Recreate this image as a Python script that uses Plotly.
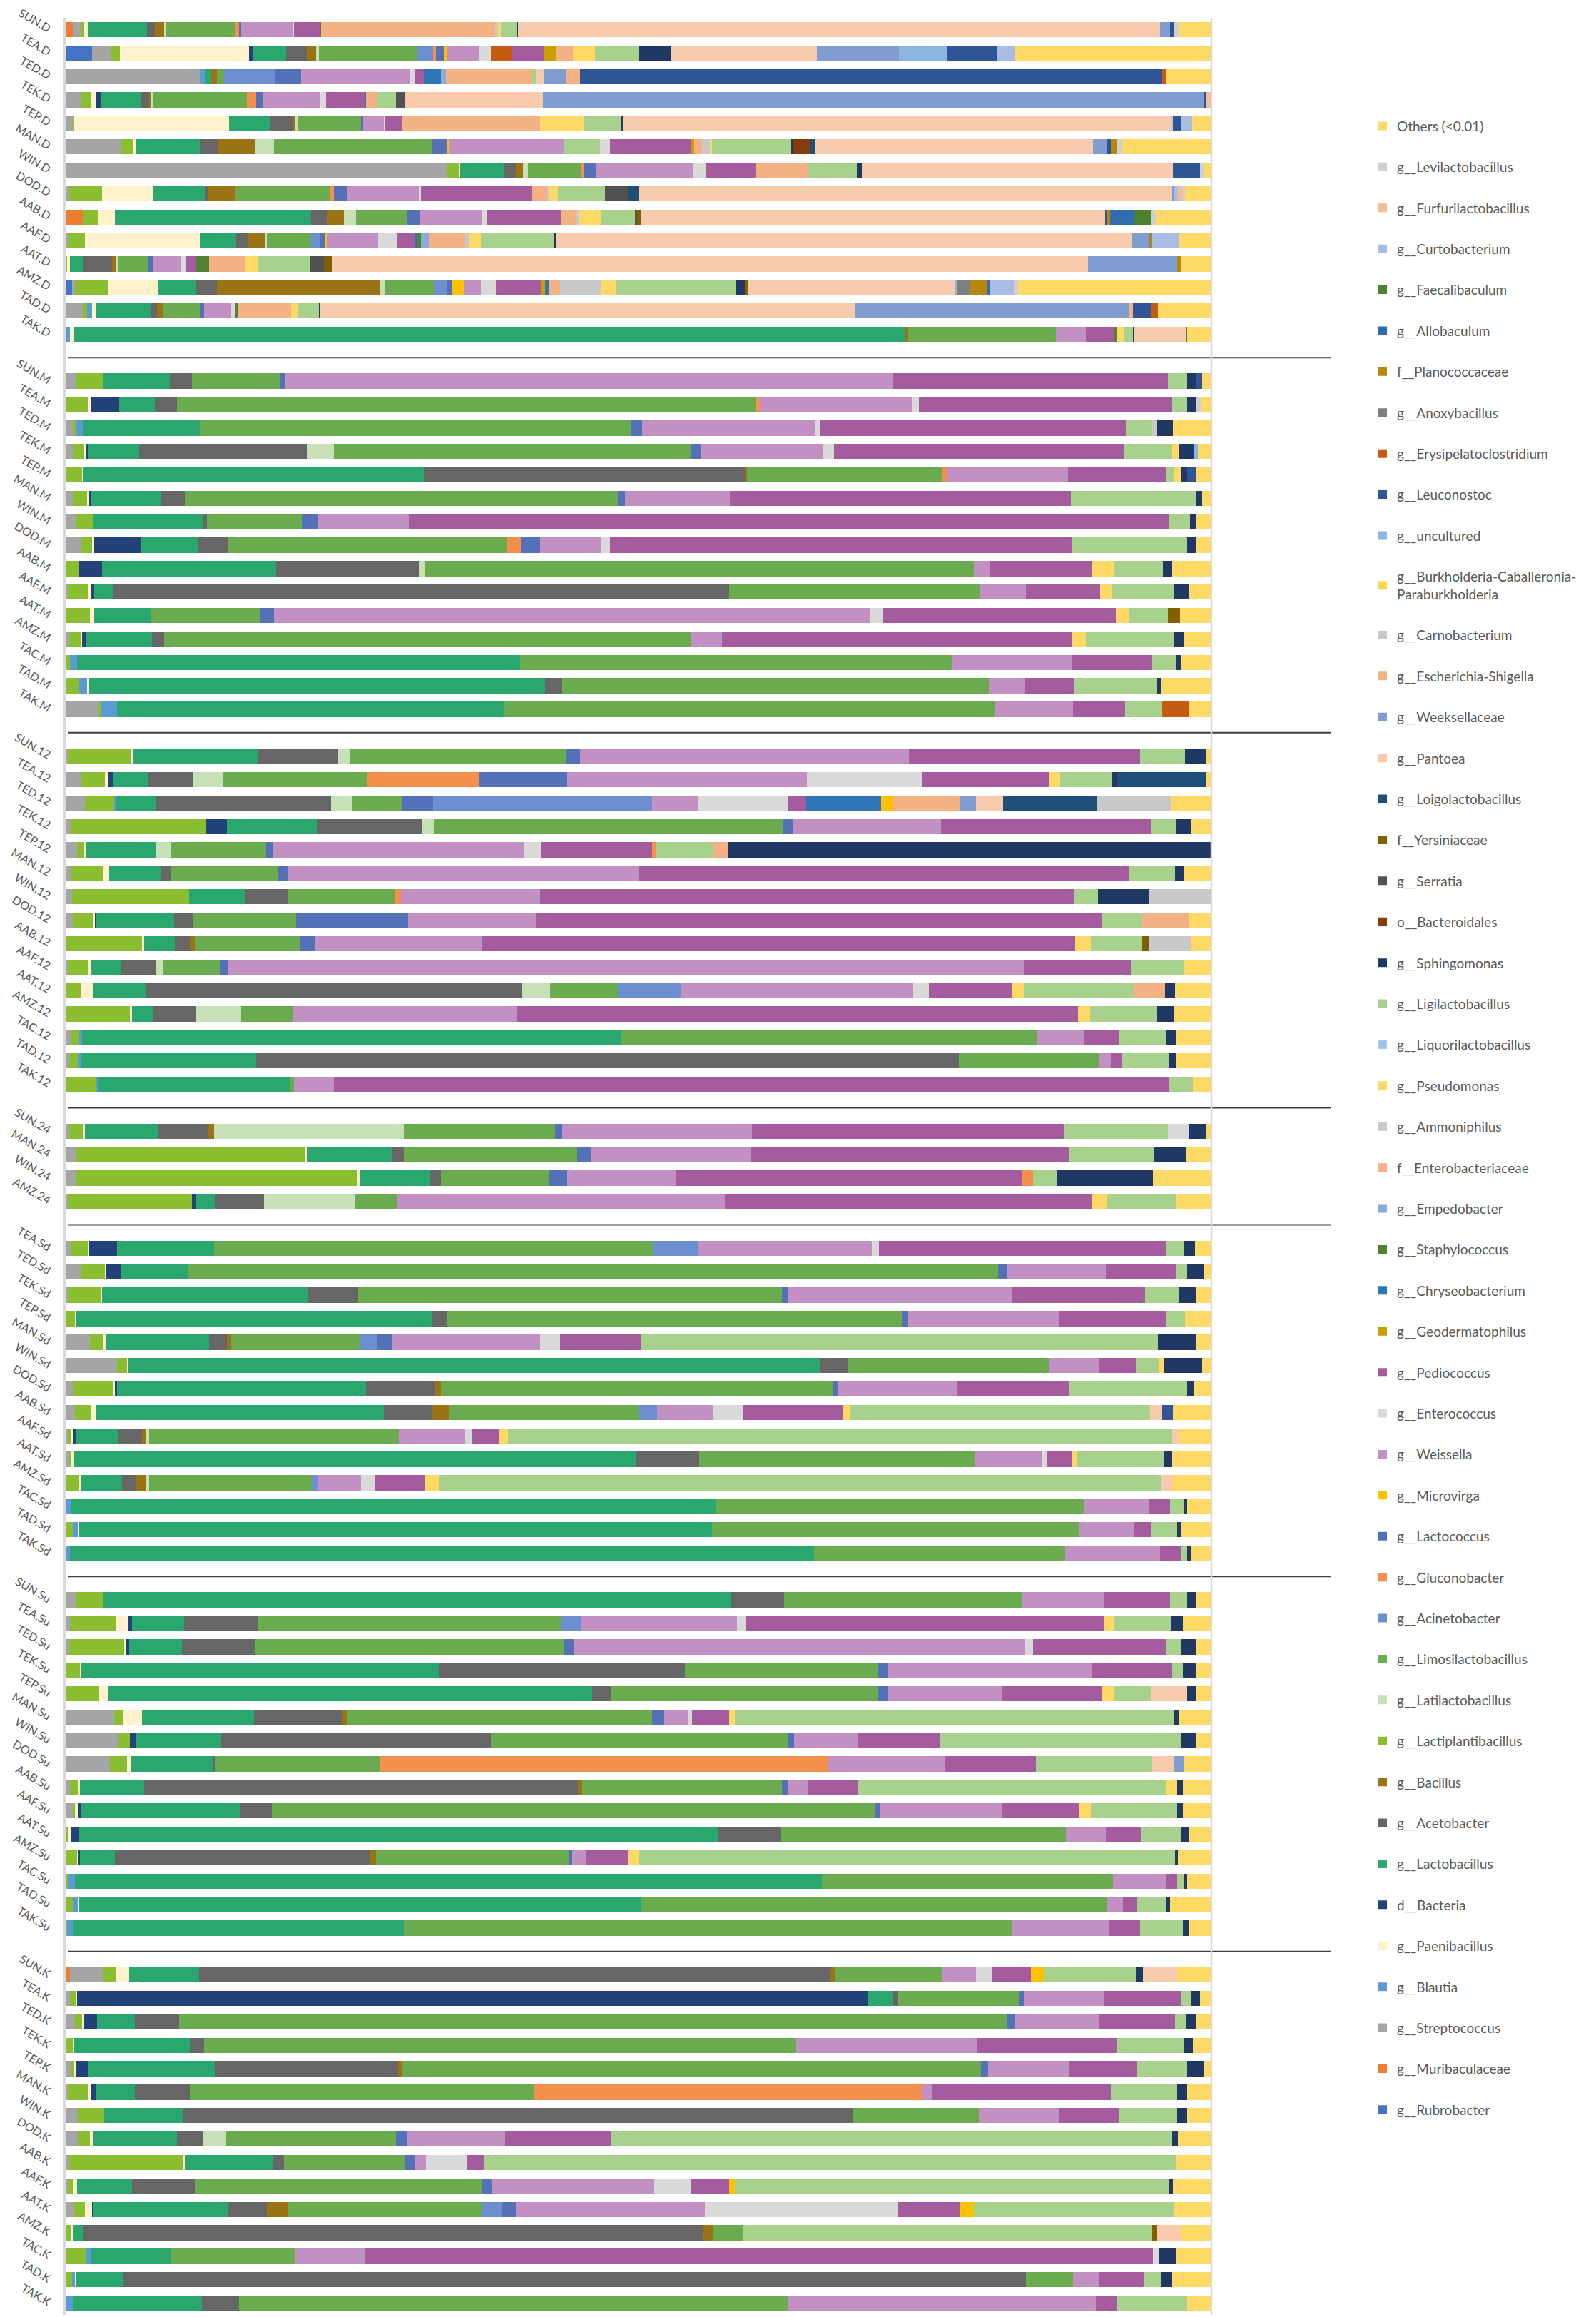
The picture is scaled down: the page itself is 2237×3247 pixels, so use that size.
import plotly.graph_objects as go

# ---------------- legend (top to bottom) ----------------
LEGEND_CODES = ["Oth", "Lev", "Fur", "Cur", "Fae", "All", "Pla", "Ano", "Ery", "Leu", "Unc", "Bur",
                "Car", "Esc", "Wee", "Pan", "Loi", "Yer", "Ser", "Bcd", "Sph", "Lig", "Liq", "Pse",
                "Amm", "Enb", "Emp", "Sta", "Chr", "Geo", "Ped", "Ent", "Wei", "Mic", "Lcc", "Glu",
                "Aci", "Lim", "Lat", "Lpl", "Bcl", "Ace", "Lbc", "Bac", "Pae", "Bla", "Str", "Mur", "Rub"]
LEGEND_NAMES = ["Others (<0.01)", "g__Levilactobacillus", "g__Furfurilactobacillus", "g__Curtobacterium",
                "g__Faecalibaculum", "g__Allobaculum", "f__Planococcaceae", "g__Anoxybacillus",
                "g__Erysipelatoclostridium", "g__Leuconostoc", "g__uncultured",
                "g__Burkholderia-Caballeronia-<br>Paraburkholderia", "g__Carnobacterium",
                "g__Escherichia-Shigella", "g__Weeksellaceae", "g__Pantoea", "g__Loigolactobacillus",
                "f__Yersiniaceae", "g__Serratia", "o__Bacteroidales", "g__Sphingomonas",
                "g__Ligilactobacillus", "g__Liquorilactobacillus", "g__Pseudomonas", "g__Ammoniphilus",
                "f__Enterobacteriaceae", "g__Empedobacter", "g__Staphylococcus", "g__Chryseobacterium",
                "g__Geodermatophilus", "g__Pediococcus", "g__Enterococcus", "g__Weissella",
                "g__Microvirga", "g__Lactococcus", "g__Gluconobacter", "g__Acinetobacter",
                "g__Limosilactobacillus", "g__Latilactobacillus", "g__Lactiplantibacillus",
                "g__Bacillus", "g__Acetobacter", "g__Lactobacillus", "d__Bacteria", "g__Paenibacillus",
                "g__Blautia", "g__Streptococcus", "g__Muribaculaceae", "g__Rubrobacter"]

COLORS = {
    "Oth": "#FFD966", "Lev": "#D0D0D0", "Fur": "#F5BC98", "Cur": "#A9BDE3", "Fae": "#4F7F30",
    "All": "#2E6DB0", "Pla": "#B8860B", "Ano": "#7F7F7F", "Ery": "#C55A11", "Leu": "#2F5597",
    "Unc": "#8DB5E2", "Bur": "#FFD54A", "Car": "#C8C8C8", "Esc": "#F4B183", "Wee": "#7F9DD1",
    "Pan": "#F8CBAD", "Loi": "#1F4E79", "Yer": "#806000", "Ser": "#525252", "Bcd": "#843C0C",
    "Sph": "#203864", "Lig": "#A9D18E", "Liq": "#9DC3E6", "Pse": "#FFD966", "Amm": "#C9C9C9",
    "Enb": "#F4B183", "Emp": "#8EA9DB", "Sta": "#548235", "Chr": "#2E75B6", "Geo": "#C9A000",
    "Ped": "#A55C9F", "Ent": "#D9D9D9", "Wei": "#C390C4", "Mic": "#FFC000", "Lcc": "#5470B6",
    "Glu": "#F4904C", "Aci": "#6C8FD1", "Lim": "#6AAB50", "Lat": "#C8E0B8", "Lpl": "#8ABE30",
    "Bcl": "#997314", "Ace": "#666666", "Lbc": "#29A76F", "Bac": "#24427A", "Pae": "#FFF2CC",
    "Bla": "#5B9BD5", "Str": "#A5A5A5", "Mur": "#ED7D31", "Rub": "#4472C4",
}

# base stacking order (left to right)
STACK_SEED = ["Rub", "Mur", "Str", "Lpl", "Bla", "Pae", "Bac", "Lbc", "Ace", "Bcl", "Lat", "Lim", "Aci",
              "Glu", "Lcc", "Mic", "Wei", "Ent", "Ped", "Geo", "Chr", "Sta", "Emp", "Enb", "Amm", "Pse",
              "Liq", "Lig", "Sph", "Bcd", "Ser", "Yer", "Loi", "Pan", "Wee", "Esc", "Car", "Bur", "Unc",
              "Leu", "Ery", "Ano", "Pla", "All", "Fae", "Cur", "Fur", "Lev", "Oth"]

SECTIONS = [
    ("D", ["SUN", "TEA", "TED", "TEK", "TEP", "MAN", "WIN", "DOD", "AAB", "AAF", "AAT", "AMZ", "TAD", "TAK"]),
    ("M", ["SUN", "TEA", "TED", "TEK", "TEP", "MAN", "WIN", "DOD", "AAB", "AAF", "AAT", "AMZ", "TAC", "TAD", "TAK"]),
    ("12", ["SUN", "TEA", "TED", "TEK", "TEP", "MAN", "WIN", "DOD", "AAB", "AAF", "AAT", "AMZ", "TAC", "TAD", "TAK"]),
    ("24", ["SUN", "MAN", "WIN", "AMZ"]),
    ("Sd", ["TEA", "TED", "TEK", "TEP", "MAN", "WIN", "DOD", "AAB", "AAF", "AAT", "AMZ", "TAC", "TAD", "TAK"]),
    ("Su", ["SUN", "TEA", "TED", "TEK", "TEP", "MAN", "WIN", "DOD", "AAB", "AAF", "AAT", "AMZ", "TAC", "TAD", "TAK"]),
    ("K", ["SUN", "TEA", "TED", "TEK", "TEP", "MAN", "WIN", "DOD", "AAB", "AAF", "AAT", "AMZ", "TAC", "TAD", "TAK"]),
]

# ---------------- relative abundances (%), left to right ----------------
SUN_D = [("Mur",0.65),("Str",0.65),("Lpl",0.3),("Pae",0.4),("Lbc",5.1),("Ace",0.72),("Bcl",0.78),("Lat",0.15),("Lim",6.0),("Glu",0.42),("Lcc",0.16),("Wei",4.5),("Ent",0.1),("Ped",2.3),("Sta",0.1),("Enb",15.2),("Amm",0.26),("Pse",0.23),("Lig",1.4),("Sph",0.1),("Pan",56.1),("Wee",0.92),("Leu",0.33),("Lev",0.46),("Oth",2.8)]
TEA_D = [("Rub",2.3),("Str",1.7),("Lpl",0.72),("Pae",11.3),("Bac",0.4),("Lbc",2.9),("Ace",1.77),("Bcl",0.85),("Lat",0.2),("Lim",8.6),("Aci",1.4),("Glu",0.26),("Lcc",0.78),("Mic",0.2),("Wei",2.8),("Ent",1.0),("Ery",1.93),("Ped",2.7),("Geo",1.1),("Enb",1.5),("Pse",1.9),("Lig",3.9),("Sph",2.8),("Pan",12.7),("Wee",7.2),("Unc",4.25),("Leu",4.4),("Cur",1.5),("Oth",17.2)]
TED_D = [("Str",11.8),("Bla",0.33),("Lbc",0.6),("Bcl",0.46),("Lim",0.65),("Aci",4.5),("Lcc",2.2),("Wei",9.5),("Ent",0.46),("Ped",0.8),("Chr",1.5),("Emp",0.4),("Enb",7.5),("Lig",0.33),("Pan",0.7),("Wee",2.0),("Esc",1.2),("Leu",50.8),("Ery",0.33),("Oth",4.0)]
TEK_D = [("Str",1.3),("Lpl",0.9),("Pae",0.4),("Bac",0.52),("Lbc",3.4),("Ace",0.75),("Bcl",0.23),("Lat",0.15),("Lim",8.2),("Glu",0.78),("Lcc",0.6),("Wei",5.0),("Ent",0.5),("Ped",3.4),("Chr",0.13),("Enb",0.9),("Lig",1.7),("Ser",0.75),("Pan",12.1),("Wee",57.7),("Leu",0.16),("Fur",0.5)]
TEP_D = [("Str",0.6),("Lpl",0.16),("Pae",13.5),("Lbc",3.6),("Ace",1.96),("Bcl",0.23),("Lat",0.2),("Lim",5.6),("Lcc",0.16),("Wei",1.8),("Ent",0.16),("Ped",1.44),("Enb",12.1),("Pse",3.8),("Lig",3.3),("Sph",0.13),("Pan",48.0),("Car",0.13),("Leu",0.7),("Cur",0.95),("Oth",1.7)]
MAN_D = [("Rub",0.07),("Str",4.7),("Lpl",1.08),("Pae",0.3),("Lbc",5.6),("Ace",1.54),("Bcl",3.3),("Lat",1.6),("Lim",13.8),("Lcc",1.3),("Mic",0.2),("Wei",10.1),("Lig",3.1),("Ent",0.9),("Ped",7.1),("Geo",0.2),("Enb",0.7),("Amm",0.7),("Pse",0.16),("Lig",6.9),("Sph",0.23),("Bcd",1.5),("Loi",0.46),("Pan",24.2),("Wee",1.24),("Leu",0.33),("Pla",0.5),("Lev",0.5),("Oth",7.8)]
WIN_D = [("Str",33.35),("Lpl",1.05),("Pae",0.07),("Lbc",3.86),("Ace",0.98),("Bcl",0.65),("Lat",0.43),("Lim",4.7),("Glu",0.26),("Lcc",1.05),("Wei",8.45),("Ent",1.14),("Ped",4.35),("Enb",4.58),("Lig",4.25),("Sph",0.4),("Pan",27.2),("Leu",2.35),("Lev",0.36),("Oth",0.65)]
DOD_D = [("Str",0.3),("Lpl",2.9),("Pae",4.5),("Lbc",4.5),("Ace",0.26),("Bcl",2.4),("Lim",8.3),("Glu",0.33),("Lcc",1.2),("Wei",6.3),("Ent",0.1),("Ped",9.7),("Enb",1.3),("Amm",0.26),("Pse",0.78),("Lig",4.1),("Ser",2.0),("Loi",1.0),("Pan",46.7),("Wee",0.2),("Cur",0.26),("Fur",0.4),("Lev",0.26),("Oth",2.3)]
AAB_D = [("Mur",1.57),("Lpl",1.24),("Pae",1.5),("Lbc",17.2),("Ace",1.4),("Bcl",1.44),("Lat",1.1),("Lim",4.5),("Lcc",1.08),("Wei",5.4),("Ent",0.4),("Ped",6.6),("Enb",1.24),("Amm",0.26),("Pse",2.0),("Lig",2.9),("Ser",0.2),("Yer",0.4),("Pan",40.6),("Leu",0.2),("Pla",0.2),("All",2.1),("Fae",1.5),("Lev",0.4),("Oth",4.9)]
AAF_D = [("Str",0.16),("Lpl",1.54),("Pae",10.1),("Lbc",3.1),("Ace",1.05),("Bcl",1.47),("Lat",0.13),("Lim",3.9),("Aci",0.7),("Lcc",0.52),("Mic",0.13),("Wei",4.5),("Ent",1.6),("Ped",1.6),("Chr",0.23),("Sta",0.26),("Emp",0.7),("Enb",3.2),("Amm",0.33),("Pse",1.05),("Lig",6.4),("Sph",0.1),("Pan",50.3),("Wee",1.57),("Ano",0.1),("Pla",0.1),("Cur",2.4),("Oth",2.8)]
AAT_D = [("Lpl",0.13),("Pae",0.26),("Lbc",1.14),("Ace",2.55),("Bcl",0.4),("Lat",0.07),("Lim",2.65),("Lcc",0.46),("Wei",2.45),("Ent",0.43),("Ped",0.9),("Sta",1.1),("Enb",3.1),("Pse",1.14),("Lig",4.6),("Ser",1.2),("Yer",0.65),("Pan",66.1),("Wee",7.8),("Pla",0.3),("Oth",2.7)]
AMZ_D = [("Rub",0.56),("Str",0.26),("Lpl",2.85),("Pae",4.35),("Lbc",3.4),("Ace",1.83),("Bcl",14.3),("Lat",0.4),("Lim",4.3),("Aci",1.14),("Lcc",0.43),("Mic",1.05),("Wei",1.47),("Ent",1.3),("Ped",3.9),("Geo",0.43),("Chr",0.26),("Enb",1.0),("Amm",3.66),("Pse",1.24),("Lig",10.5),("Sph",0.8),("Yer",0.23),("Pan",18.1),("Unc",0.2),("Ano",1.14),("Pla",1.54),("All",0.23),("Cur",2.06),("Lev",0.4),("Oth",16.9)]
TAD_D = [("Str",1.54),("Lpl",0.36),("Bla",0.4),("Pae",0.36),("Lbc",4.84),("Ace",0.5),("Bcl",0.46),("Lim",3.34),("Lcc",0.33),("Wei",2.35),("Ent",0.3),("Sta",0.3),("Enb",4.64),("Pse",0.56),("Lig",1.93),("Sph",0.1),("Pan",46.8),("Wee",24.0),("Esc",0.26),("Leu",1.57),("Ery",0.62),("Oth",4.7)]
TAK_D = [("Lpl",0.07),("Bla",0.33),("Pae",0.33),("Lbc",72.6),("Bcl",0.33),("Lim",12.9),("Wei",2.6),("Ped",2.5),("Sta",0.26),("Pse",0.6),("Lig",0.8),("Sph",0.13),("Pan",4.45),("Fae",0.16),("Oth",2.1)]

SUN_M = [("Str",0.85),("Lpl",2.45),("Lbc",5.8),("Ace",1.9),("Lim",7.7),("Lcc",0.4),("Wei",53.1),("Ped",24.0),("Lig",1.7),("Sph",0.8),("Leu",0.5),("Oth",0.8)]
TEA_M = [("Lpl",1.9),("Pae",0.3),("Bac",2.45),("Lbc",3.1),("Ace",1.9),("Lim",50.2),("Glu",0.4),("Wei",13.2),("Ent",0.6),("Ped",22.0),("Lig",1.3),("Sph",0.8),("Lev",0.4),("Oth",0.9)]
TED_M = [("Str",0.6),("Lpl",0.3),("Bla",0.6),("Lbc",10.3),("Lim",37.7),("Lcc",0.9),("Wei",15.1),("Ent",0.5),("Ped",26.7),("Lig",2.3),("Amm",0.4),("Sph",1.4),("Oth",3.4)]
TEK_M = [("Str",0.6),("Lpl",1.0),("Pae",0.15),("Bac",0.2),("Lbc",4.5),("Ace",14.6),("Lat",2.4),("Lim",31.2),("Lcc",0.9),("Wei",10.6),("Ent",1.0),("Ped",25.3),("Lig",4.3),("Pse",0.6),("Sph",1.3),("Unc",0.3),("Oth",1.2)]
TEP_M = [("Lpl",1.4),("Pae",0.15),("Lbc",29.7),("Ace",28.0),("Bcl",0.2),("Lim",17.0),("Glu",0.4),("Wei",10.6),("Ped",8.6),("Lig",0.6),("Pse",0.6),("Sph",0.6),("Leu",0.8),("Oth",1.3)]
MAN_M = [("Str",0.6),("Lpl",1.3),("Pae",0.15),("Bac",0.15),("Lbc",6.1),("Ace",2.2),("Lim",37.8),("Lcc",0.6),("Wei",9.2),("Ped",29.8),("Lig",11.0),("Sph",0.5),("Oth",0.8)]
WIN_M = [("Str",0.85),("Lpl",1.5),("Lbc",9.7),("Ace",0.3),("Lim",8.3),("Lcc",1.4),("Wei",7.9),("Ped",66.4),("Lig",1.8),("Sph",0.6),("Oth",1.3)]
DOD_M = [("Str",1.3),("Lpl",1.0),("Pae",0.2),("Bac",4.1),("Lbc",5.0),("Ace",2.6),("Lim",24.4),("Glu",1.2),("Lcc",1.7),("Wei",5.3),("Ent",0.8),("Ped",40.4),("Lig",10.1),("Sph",0.8),("Oth",1.3)]
AAB_M = [("Lpl",1.15),("Bac",2.0),("Lbc",15.1),("Ace",12.4),("Lat",0.5),("Lim",47.7),("Wei",1.4),("Ped",8.8),("Pse",1.9),("Lig",4.3),("Sph",0.8),("Oth",3.4)]
AAF_M = [("Str",0.25),("Lpl",1.75),("Pae",0.2),("Bac",0.3),("Lbc",1.6),("Ace",53.8),("Lim",21.9),("Wei",4.0),("Ped",6.5),("Pse",1.0),("Lig",5.4),("Sph",1.3),("Oth",2.0)]
AAT_M = [("Lpl",2.1),("Pae",0.37),("Lbc",4.8),("Lim",9.4),("Lcc",1.2),("Wei",51.1),("Ent",1.0),("Ped",20.0),("Pse",1.2),("Lig",3.3),("Yer",1.0),("Oth",2.7)]
AMZ_M = [("Str",0.3),("Lpl",1.0),("Pae",0.1),("Bac",0.3),("Lbc",5.8),("Ace",1.0),("Lim",45.6),("Wei",2.7),("Ped",30.3),("Pse",1.2),("Lig",7.7),("Sph",0.8),("Oth",2.4)]
TAC_M = [("Lpl",0.37),("Bla",0.6),("Lbc",38.7),("Lim",37.8),("Wei",10.4),("Ped",7.0),("Lig",2.1),("Sph",0.4),("Oth",2.7)]
TAD_M = [("Lpl",1.15),("Bla",0.7),("Pae",0.2),("Lbc",39.7),("Ace",1.5),("Lim",37.1),("Wei",3.2),("Ped",4.3),("Lig",7.1),("Sph",0.4),("Oth",4.4)]
TAK_M = [("Str",2.8),("Lpl",0.25),("Bla",1.4),("Lbc",33.5),("Lim",42.6),("Wei",6.7),("Ped",4.5),("Lig",3.2),("Ery",2.3),("Oth",2.0)]

SUN_12 = [("Str",0.2),("Lpl",5.5),("Pae",0.2),("Lbc",10.8),("Ace",7.0),("Lat",1.0),("Lim",18.8),("Lcc",1.2),("Wei",28.6),("Ped",20.1),("Lig",3.9),("Sph",1.8),("Oth",0.5)]
TEA_12 = [("Str",1.4),("Lpl",2.0),("Pae",0.27),("Bac",0.5),("Lbc",3.0),("Ace",3.9),("Lat",2.6),("Lim",12.6),("Glu",9.8),("Lcc",7.7),("Wei",20.9),("Ent",10.1),("Ped",11.0),("Pse",1.0),("Lig",4.5),("Sph",0.5),("Loi",7.7),("Oth",0.5)]
TED_12 = [("Str",1.65),("Lpl",2.5),("Bla",0.2),("Lbc",3.3),("Ace",15.0),("Lat",1.8),("Lim",4.3),("Lcc",2.6),("Aci",18.7),("Wei",3.9),("Ent",7.7),("Ped",1.5),("Chr",6.4),("Mic",1.0),("Enb",5.8),("Wee",1.3),("Pan",2.3),("Loi",8.0),("Amm",6.4),("Oth",3.4)]
TEK_12 = [("Str",0.45),("Lpl",12.1),("Bac",1.9),("Lbc",8.0),("Ace",9.5),("Lat",1.0),("Lim",31.2),("Lcc",1.0),("Wei",13.2),("Ped",18.8),("Lig",2.3),("Sph",1.3),("Oth",1.8)]
TEP_12 = [("Str",1.0),("Lpl",0.6),("Pae",0.15),("Lbc",6.1),("Lat",1.3),("Lim",8.4),("Lcc",0.6),("Wei",21.9),("Ent",1.5),("Ped",9.7),("Glu",0.4),("Lig",4.9),("Enb",1.4),("Sph",42.2)]
MAN_12 = [("Str",0.45),("Lpl",2.9),("Pae",0.5),("Lbc",4.5),("Ace",0.9),("Lim",9.4),("Lcc",0.9),("Wei",30.9),("Ped",43.2),("Lig",4.1),("Sph",0.8),("Oth",2.4)]
WIN_12 = [("Str",0.55),("Lpl",10.2),("Lbc",4.9),("Ace",3.7),("Lim",9.3),("Glu",0.6),("Wei",12.1),("Ped",46.5),("Lig",2.1),("Sph",4.5),("Amm",5.4)]
DOD_12 = [("Str",0.65),("Lpl",1.8),("Pae",0.12),("Bac",0.1),("Lbc",6.7),("Ace",1.6),("Lim",9.0),("Lcc",9.7),("Wei",11.0),("Ped",49.0),("Lig",3.5),("Enb",4.0),("Oth",2.0)]
AAB_12 = [("Lpl",6.5),("Pae",0.2),("Lbc",2.6),("Ace",1.3),("Bcl",0.4),("Lim",9.0),("Lcc",1.2),("Wei",14.3),("Ped",50.5),("Pse",1.3),("Lig",4.4),("Yer",0.6),("Amm",3.6),("Oth",1.7)]
AAF_12 = [("Str",0.2),("Lpl",1.65),("Pae",0.3),("Lbc",2.5),("Ace",2.9),("Lat",0.6),("Lim",4.9),("Lcc",0.6),("Wei",67.0),("Ped",9.0),("Lig",4.5),("Oth",2.3)]
AAT_12 = [("Lpl",1.35),("Pae",1.0),("Lbc",4.6),("Ace",32.2),("Lat",2.5),("Lim",5.8),("Aci",5.4),("Wei",20.0),("Ent",1.3),("Ped",7.2),("Pse",1.0),("Lig",9.5),("Enb",2.6),("Sph",0.9),("Oth",3.1)]
AMZ_12 = [("Lpl",5.6),("Pae",0.17),("Lbc",1.9),("Ace",3.7),("Lat",3.9),("Lim",4.5),("Wei",19.5),("Ped",49.0),("Pse",1.0),("Lig",5.8),("Sph",1.5),("Oth",3.3)]
TAC_12 = [("Str",0.45),("Lpl",0.7),("Bla",0.27),("Lbc",46.0),("Lim",35.5),("Wei",4.0),("Ped",3.0),("Lig",4.0),("Sph",0.9),("Oth",3.0)]
TAD_12 = [("Str",0.3),("Lpl",0.77),("Bla",0.2),("Lbc",15.0),("Ace",60.0),("Lim",12.0),("Wei",1.0),("Ped",1.0),("Lig",4.0),("Sph",0.6),("Oth",3.0)]
TAK_12 = [("Lpl",2.65),("Bla",0.2),("Lbc",16.8),("Lim",0.3),("Wei",3.5),("Ped",73.1),("Lig",2.1),("Oth",1.6)]

SUN_24 = [("Str",0.3),("Lpl",1.2),("Pae",0.2),("Lbc",6.4),("Ace",4.3),("Bcl",0.5),("Lat",16.5),("Lim",13.2),("Lcc",0.6),("Wei",16.5),("Ped",27.2),("Lig",9.0),("Ent",1.8),("Sph",1.5),("Oth",0.5)]
MAN_24 = [("Str",0.93),("Lpl",19.8),("Pae",0.2),("Lbc",7.3),("Ace",1.0),("Lim",15.0),("Lcc",1.2),("Wei",13.8),("Ped",27.5),("Lig",7.3),("Sph",2.8),("Oth",2.2)]
WIN_24 = [("Str",0.93),("Lpl",24.1),("Pae",0.2),("Lbc",6.0),("Ace",1.0),("Lim",9.3),("Lcc",1.5),("Wei",9.4),("Ped",29.7),("Glu",0.9),("Lig",2.0),("Sph",8.3),("Oth",5.0)]
AMZ_24 = [("Str",0.25),("Lpl",10.8),("Bac",0.4),("Lbc",1.6),("Ace",4.3),("Lat",8.0),("Lim",3.6),("Wei",28.7),("Ped",32.2),("Pse",1.3),("Lig",6.0),("Oth",3.1)]

TEA_Sd = [("Str",0.5),("Lpl",1.4),("Pae",0.15),("Bac",2.4),("Lbc",8.5),("Lim",38.2),("Aci",4.0),("Wei",15.1),("Ent",0.6),("Ped",25.1),("Lig",1.5),("Sph",1.0),("Oth",1.4)]
TED_Sd = [("Str",1.3),("Lpl",2.1),("Pae",0.15),("Bac",1.3),("Lbc",5.8),("Lim",70.7),("Lcc",0.8),("Wei",8.6),("Ped",6.1),("Lig",1.0),("Sph",1.5),("Oth",0.6)]
TEK_Sd = [("Str",0.25),("Lpl",2.8),("Pae",0.15),("Lbc",18.0),("Ace",4.3),("Lim",37.0),("Lcc",0.6),("Wei",19.5),("Ped",11.6),("Lig",3.0),("Sph",1.5),("Oth",1.3)]
TEP_Sd = [("Lpl",0.8),("Pae",0.15),("Lbc",31.0),("Ace",1.3),("Lim",39.7),("Lcc",0.5),("Wei",13.2),("Ped",9.3),("Lig",1.7),("Oth",2.3)]
MAN_Sd = [("Str",2.1),("Lpl",1.2),("Pae",0.25),("Lbc",9.0),("Ace",1.5),("Bcl",0.4),("Lim",11.3),("Aci",1.5),("Lcc",1.3),("Wei",12.9),("Ent",1.7),("Ped",7.1),("Lig",45.1),("Sph",3.4),("Oth",1.3)]
WIN_Sd = [("Str",4.5),("Lpl",0.9),("Pae",0.1),("Lbc",60.3),("Ace",2.5),("Lim",17.5),("Wei",4.4),("Ped",3.2),("Lig",2.0),("Pse",0.5),("Sph",3.3),("Oth",0.8)]
DOD_Sd = [("Str",0.6),("Lpl",3.5),("Pae",0.15),("Bac",0.2),("Lbc",21.6),("Ace",6.0),("Bcl",0.5),("Lim",34.0),("Lcc",0.5),("Wei",10.3),("Ped",9.7),("Lig",10.3),("Sph",0.6),("Oth",1.5)]
AAB_Sd = [("Str",0.8),("Lpl",1.4),("Pae",0.35),("Lbc",24.8),("Ace",4.1),("Bcl",1.5),("Lim",16.4),("Aci",1.5),("Wei",4.8),("Ent",2.6),("Ped",8.6),("Pse",0.6),("Lig",25.8),("Pan",1.0),("Leu",1.0),("Oth",3.3)]
AAF_Sd = [("Str",0.25),("Lpl",0.15),("Pae",0.3),("Bac",0.15),("Lbc",3.7),("Ace",2.05),("Bcl",0.3),("Lat",0.3),("Lim",21.5),("Wei",5.7),("Ent",0.6),("Ped",2.3),("Pse",0.8),("Lig",57.2),("Pan",0.6),("Oth",2.8)]
AAT_Sd = [("Str",0.3),("Lpl",0.15),("Pae",0.3),("Lbc",49.0),("Ace",5.5),("Lim",24.1),("Wei",5.8),("Ent",0.5),("Ped",2.1),("Pse",0.5),("Lig",7.5),("Sph",0.8),("Oth",3.4)]
AMZ_Sd = [("Lpl",1.2),("Pae",0.2),("Lbc",3.5),("Ace",1.3),("Bcl",0.8),("Lat",0.3),("Lim",14.3),("Aci",0.5),("Wei",3.7),("Ent",1.2),("Ped",4.4),("Pse",1.2),("Lig",63.2),("Pan",1.0),("Oth",3.4)]
TAC_Sd = [("Bla",0.5),("Lbc",56.3),("Lim",32.1),("Wei",5.7),("Ped",1.8),("Lig",1.2),("Sph",0.3),("Oth",2.1)]
TAD_Sd = [("Lpl",0.6),("Bla",0.45),("Pae",0.15),("Lbc",55.2),("Lim",32.1),("Wei",4.8),("Ped",1.4),("Lig",2.3),("Sph",0.3),("Oth",2.7)]
TAK_Sd = [("Bla",0.35),("Lbc",65.0),("Lim",21.9),("Wei",8.3),("Ped",1.8),("Lig",0.6),("Sph",0.3),("Oth",1.8)]

SUN_Su = [("Str",0.85),("Lpl",2.4),("Lbc",54.8),("Ace",4.6),("Lim",20.8),("Wei",7.1),("Ped",5.8),("Lig",1.5),("Sph",0.8),("Oth",1.3)]
TEA_Su = [("Str",0.37),("Lpl",4.0),("Pae",1.1),("Bac",0.3),("Lbc",4.5),("Ace",6.4),("Lim",26.4),("Aci",1.7),("Wei",13.5),("Ent",0.8),("Ped",31.1),("Pse",0.8),("Lig",5.0),("Sph",1.0),("Oth",2.5)]
TED_Su = [("Str",0.3),("Lpl",4.8),("Pae",0.15),("Bac",0.3),("Lbc",4.6),("Ace",6.4),("Lim",26.8),("Lcc",0.9),("Wei",39.3),("Ent",0.7),("Ped",11.6),("Lig",1.2),("Sph",1.4),("Oth",1.3)]
TEK_Su = [("Lpl",1.3),("Pae",0.1),("Lbc",31.2),("Ace",21.5),("Lim",16.8),("Lcc",0.9),("Wei",17.8),("Ped",7.1),("Lig",0.9),("Sph",1.2),("Oth",1.3)]
TEP_Su = [("Lpl",2.9),("Pae",0.8),("Lbc",42.2),("Ace",1.7),("Lim",23.2),("Lcc",0.9),("Wei",9.9),("Ped",8.8),("Pse",1.0),("Lig",3.2),("Pan",3.2),("Sph",0.8),("Oth",1.3)]
MAN_Su = [("Str",4.25),("Lpl",0.8),("Pae",1.6),("Lbc",9.8),("Ace",7.7),("Bcl",0.4),("Lim",26.6),("Lcc",1.0),("Wei",2.2),("Ent",0.3),("Ped",3.2),("Pse",0.5),("Lig",38.3),("Sph",0.5),("Oth",2.8)]
WIN_Su = [("Str",4.6),("Lpl",1.0),("Bac",0.5),("Lbc",7.5),("Ace",23.5),("Lim",26.0),("Lcc",0.5),("Wei",5.5),("Ped",7.2),("Lig",21.0),("Sph",1.4),("Oth",1.3)]
DOD_Su = [("Str",3.85),("Lpl",1.5),("Pae",0.35),("Lbc",7.1),("Ace",0.3),("Lim",14.3),("Glu",39.1),("Wei",10.2),("Ped",8.0),("Lig",10.1),("Pan",1.9),("Wee",0.9),("Oth",2.4)]
AAB_Su = [("Str",0.37),("Lpl",0.8),("Pae",0.1),("Lbc",5.6),("Ace",37.8),("Bcl",0.4),("Lim",17.4),("Lcc",0.6),("Wei",1.7),("Ped",4.4),("Lig",26.8),("Pse",1.0),("Sph",0.5),("Oth",2.5)]
AAF_Su = [("Str",0.7),("Lpl",0.1),("Pae",0.27),("Bac",0.25),("Lbc",13.9),("Ace",2.7),("Lim",52.5),("Lcc",0.4),("Wei",10.6),("Ped",6.7),("Pse",1.0),("Lig",7.5),("Sph",0.5),("Oth",2.5)]
AAT_Su = [("Lpl",0.2),("Pae",0.25),("Bac",0.75),("Lbc",55.8),("Ace",5.5),("Lim",24.9),("Wei",3.5),("Ped",3.0),("Lig",3.5),("Sph",0.7),("Oth",2.0)]
AMZ_Su = [("Lpl",1.0),("Pae",0.12),("Bac",0.15),("Lbc",3.0),("Ace",22.3),("Bcl",0.5),("Lim",16.8),("Lcc",0.3),("Wei",1.3),("Ped",3.6),("Pse",1.0),("Lig",46.7),("Sph",0.3),("Oth",2.9)]
TAC_Su = [("Lpl",0.25),("Bla",0.55),("Lbc",65.2),("Lim",25.4),("Wei",4.6),("Ped",1.0),("Lig",0.6),("Sph",0.3),("Oth",2.1)]
TAD_Su = [("Lpl",0.65),("Bla",0.4),("Pae",0.15),("Lbc",49.0),("Lim",40.7),("Wei",1.4),("Ped",1.2),("Lig",2.5),("Sph",0.4),("Oth",3.6)]
TAK_Su = [("Lpl",0.15),("Bla",0.55),("Lbc",28.8),("Lim",53.1),("Wei",8.5),("Ped",2.7),("Lig",3.7),("Sph",0.5),("Oth",2.0)]

SUN_K = [("Mur",0.4),("Str",2.9),("Lpl",1.15),("Pae",1.1),("Lbc",6.1),("Ace",55.2),("Bcl",0.5),("Lim",9.3),("Wei",3.0),("Ent",1.4),("Ped",3.4),("Mic",1.2),("Lig",8.0),("Sph",0.6),("Pan",3.0),("Oth",3.0)]
TEA_K = [("Str",0.4),("Lpl",0.5),("Pae",0.1),("Bac",69.1),("Lbc",2.2),("Ace",0.4),("Lim",10.6),("Lcc",0.4),("Wei",7.0),("Ped",6.8),("Lig",0.8),("Sph",0.8),("Oth",1.0)]
TED_K = [("Str",0.8),("Lpl",0.66),("Pae",0.15),("Bac",1.1),("Lbc",3.3),("Ace",3.9),("Lim",72.3),("Lcc",0.6),("Wei",7.4),("Ped",6.6),("Lig",1.0),("Sph",0.9),("Oth",1.3)]
TEK_K = [("Lpl",0.6),("Pae",0.15),("Lbc",10.1),("Ace",1.2),("Lim",51.7),("Wei",15.7),("Ped",12.3),("Lig",5.8),("Sph",0.8),("Oth",1.6)]
TEP_K = [("Str",0.45),("Lpl",0.35),("Pae",0.1),("Bac",1.1),("Lbc",11.0),("Ace",16.0),("Bcl",0.4),("Lim",50.5),("Lcc",0.6),("Wei",7.1),("Ped",5.9),("Lig",4.4),("Sph",1.5),("Oth",0.6)]
MAN_K = [("Str",0.25),("Lpl",1.7),("Pae",0.2),("Bac",0.5),("Lbc",3.4),("Ace",4.8),("Lim",30.0),("Glu",33.9),("Wei",0.9),("Ped",15.6),("Lig",5.8),("Sph",0.9),("Oth",2.1)]
WIN_K = [("Str",1.1),("Lpl",2.25),("Lbc",6.9),("Ace",58.4),("Lim",11.0),("Wei",7.0),("Ped",5.2),("Lig",5.1),("Sph",0.9),("Oth",2.1)]
DOD_K = [("Str",1.1),("Lpl",1.0),("Pae",0.3),("Lbc",7.2),("Ace",2.3),("Lat",2.0),("Lim",14.7),("Lcc",0.9),("Wei",8.5),("Ped",9.2),("Lig",48.5),("Sph",0.5),("Oth",2.9)]
AAB_K = [("Str",0.3),("Lpl",9.8),("Pae",0.2),("Lbc",7.6),("Ace",1.0),("Lim",10.5),("Lcc",0.8),("Wei",1.0),("Ent",3.5),("Ped",1.5),("Lig",60.0),("Oth",3.0)]
AAF_K = [("Str",0.2),("Lpl",0.4),("Pae",0.4),("Lbc",4.7),("Ace",5.4),("Lim",24.6),("Lcc",0.8),("Wei",13.9),("Ent",3.2),("Ped",3.2),("Mic",0.5),("Lig",37.2),("Sph",0.3),("Oth",3.3)]
AAT_K = [("Str",0.75),("Lpl",0.95),("Pae",0.65),("Bac",0.1),("Lbc",11.7),("Ace",3.4),("Bcl",1.8),("Lim",17.0),("Aci",1.7),("Lcc",1.2),("Wei",16.5),("Ent",16.8),("Ped",5.4),("Mic",1.3),("Lig",17.4),("Oth",3.3)]
AMZ_K = [("Lpl",0.45),("Pae",0.2),("Lbc",0.85),("Ace",53.9),("Bcl",0.8),("Lim",2.6),("Lig",35.5),("Yer",0.5),("Pan",2.1),("Oth",2.6)]
TAC_K = [("Lpl",1.75),("Bla",0.4),("Lbc",7.0),("Lim",10.8),("Wei",6.2),("Ped",68.7),("Ent",0.5),("Sph",1.5),("Oth",3.1)]
TAD_K = [("Lpl",0.55),("Bla",0.3),("Pae",0.1),("Lbc",4.1),("Ace",78.7),("Lim",4.1),("Wei",2.3),("Ped",3.9),("Lig",1.5),("Sph",1.0),("Oth",3.4)]
TAK_K = [("Bla",0.7),("Lbc",11.2),("Ace",3.2),("Lim",48.0),("Wei",26.8),("Ped",1.8),("Lig",6.2),("Oth",2.1)]

ROWS = {
    "SUN.D": SUN_D, "TEA.D": TEA_D, "TED.D": TED_D, "TEK.D": TEK_D, "TEP.D": TEP_D, "MAN.D": MAN_D,
    "WIN.D": WIN_D, "DOD.D": DOD_D, "AAB.D": AAB_D, "AAF.D": AAF_D, "AAT.D": AAT_D, "AMZ.D": AMZ_D,
    "TAD.D": TAD_D, "TAK.D": TAK_D,
    "SUN.M": SUN_M, "TEA.M": TEA_M, "TED.M": TED_M, "TEK.M": TEK_M, "TEP.M": TEP_M, "MAN.M": MAN_M,
    "WIN.M": WIN_M, "DOD.M": DOD_M, "AAB.M": AAB_M, "AAF.M": AAF_M, "AAT.M": AAT_M, "AMZ.M": AMZ_M,
    "TAC.M": TAC_M, "TAD.M": TAD_M, "TAK.M": TAK_M,
    "SUN.12": SUN_12, "TEA.12": TEA_12, "TED.12": TED_12, "TEK.12": TEK_12, "TEP.12": TEP_12,
    "MAN.12": MAN_12, "WIN.12": WIN_12, "DOD.12": DOD_12, "AAB.12": AAB_12, "AAF.12": AAF_12,
    "AAT.12": AAT_12, "AMZ.12": AMZ_12, "TAC.12": TAC_12, "TAD.12": TAD_12, "TAK.12": TAK_12,
    "SUN.24": SUN_24, "MAN.24": MAN_24, "WIN.24": WIN_24, "AMZ.24": AMZ_24,
    "TEA.Sd": TEA_Sd, "TED.Sd": TED_Sd, "TEK.Sd": TEK_Sd, "TEP.Sd": TEP_Sd, "MAN.Sd": MAN_Sd,
    "WIN.Sd": WIN_Sd, "DOD.Sd": DOD_Sd, "AAB.Sd": AAB_Sd, "AAF.Sd": AAF_Sd, "AAT.Sd": AAT_Sd,
    "AMZ.Sd": AMZ_Sd, "TAC.Sd": TAC_Sd, "TAD.Sd": TAD_Sd, "TAK.Sd": TAK_Sd,
    "SUN.Su": SUN_Su, "TEA.Su": TEA_Su, "TED.Su": TED_Su, "TEK.Su": TEK_Su, "TEP.Su": TEP_Su,
    "MAN.Su": MAN_Su, "WIN.Su": WIN_Su, "DOD.Su": DOD_Su, "AAB.Su": AAB_Su, "AAF.Su": AAF_Su,
    "AAT.Su": AAT_Su, "AMZ.Su": AMZ_Su, "TAC.Su": TAC_Su, "TAD.Su": TAD_Su, "TAK.Su": TAK_Su,
    "SUN.K": SUN_K, "TEA.K": TEA_K, "TED.K": TED_K, "TEK.K": TEK_K, "TEP.K": TEP_K, "MAN.K": MAN_K,
    "WIN.K": WIN_K, "DOD.K": DOD_K, "AAB.K": AAB_K, "AAF.K": AAF_K, "AAT.K": AAT_K, "AMZ.K": AMZ_K,
    "TAC.K": TAC_K, "TAD.K": TAD_K, "TAK.K": TAK_K,
}

# ---------------- row slots (one empty slot between groups) ----------------
labels, slots, sep_slots = [], [], []
k = 0
for si, (suffix, sites) in enumerate(SECTIONS):
    if si > 0:
        sep_slots.append(k)
        k += 1
    for s in sites:
        labels.append(f"{s}.{suffix}")
        slots.append(k)
        k += 1
n_slots = k

# ---------------- build a stacking order that contains every row's sequence ----------------
master = list(STACK_SEED)
for lab in labels:
    p = 0
    for code, _ in ROWS[lab]:
        try:
            idx = master.index(code, p)
        except ValueError:
            master.insert(p, code)
            idx = p
        p = idx + 1

vals = [[0.0] * len(labels) for _ in master]
for ri, lab in enumerate(labels):
    p = 0
    for code, v in ROWS[lab]:
        idx = master.index(code, p)
        vals[idx][ri] += v
        p = idx + 1

name_of = dict(zip(LEGEND_CODES, LEGEND_NAMES))
rank_of = {c: i + 1 for i, c in enumerate(LEGEND_CODES)}

fig = go.Figure()
shown = set()
for ti, code in enumerate(master):
    if not any(vals[ti]):
        continue
    first = code not in shown
    shown.add(code)
    fig.add_trace(go.Bar(
        y=slots, x=vals[ti], orientation="h", width=0.65,
        name=name_of[code], legendgroup=code, showlegend=first,
        legendrank=rank_of[code],
        marker=dict(color=COLORS[code], line=dict(width=0)),
        hovertemplate=name_of[code].replace("<br>", "") + ": %{x:.2f}%<extra></extra>",
    ))

for code in LEGEND_CODES:
    if code not in shown:
        fig.add_trace(go.Bar(y=[None], x=[None], orientation="h", name=name_of[code],
                             legendgroup=code, legendrank=rank_of[code],
                             marker=dict(color=COLORS[code])))

shapes = []
for s in sep_slots:
    shapes.append(dict(type="line", xref="paper", yref="y", x0=0.002, x1=1.1046, y0=s, y1=s,
                       line=dict(color="#3F3F3F", width=2)))
shapes.append(dict(type="line", xref="paper", yref="paper", x0=1, x1=1, y0=0, y1=1,
                   line=dict(color="#D9D9D9", width=2.5)))

fig.update_layout(
    width=2237, height=3247,
    margin=dict(l=84, r=547, t=17, b=11, autoexpand=False),
    barmode="stack", barnorm="percent",
    paper_bgcolor="white", plot_bgcolor="white",
    font=dict(family="Lato, 'Open Sans', sans-serif", color="#595959"),
    xaxis=dict(range=[0, 100], visible=False, fixedrange=True, automargin=False),
    yaxis=dict(range=[n_slots - 0.5, -0.5], tickvals=slots, ticktext=labels, tickangle=30,
               tickfont=dict(size=16, color="#595959"), showline=True, linecolor="#D9D9D9",
               linewidth=3, ticks="outside", ticklen=15, tickcolor="rgba(0,0,0,0)",
               showgrid=False, zeroline=False, fixedrange=True, automargin=False,
               ticklabeloverflow="allow"),
    legend=dict(x=1.137, y=0.9588, xanchor="left", yanchor="top", traceorder="grouped",
                tracegroupgap=29.7, font=dict(size=19, color="#595959"),
                bgcolor="rgba(0,0,0,0)"),
    shapes=shapes,
    showlegend=True,
)

fig.write_html("out.html")
